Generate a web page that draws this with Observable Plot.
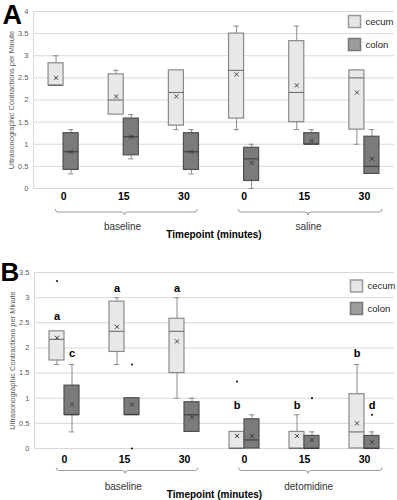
<!DOCTYPE html>
<html><head><meta charset="utf-8">
<script src="https://cdn.jsdelivr.net/npm/d3@7"></script>
<script src="https://cdn.jsdelivr.net/npm/@observablehq/plot@0.6"></script>
<style>
body{margin:0;background:#fff;font-family:"Liberation Sans",Arial,sans-serif}
#chart{width:397px}
#chart svg{display:block}
</style>
</head><body><div id="chart"></div>
<script>
// ---- data ----
const timepoints = ["0","15","30","0","15","30"];
const groupsA = ["baseline","saline"];
const groupsB = ["baseline","detomidine"];
const yTicksA = [0,0.5,1,1.5,2,2.5,3,3.5,4];
const yTicksB = [0,0.5,1,1.5,2,2.5,3,3.5];
const yLabel = "Ultrasonographic Contractions per Minute";
const xTitle = "Timepoint (minutes)";
const tissues = ["cecum","colon"];
// each entry: [min, q1, median, q3, max, mean]
const cecumA = [[2.33,2.33,2.33,2.83,3.0,2.5],[1.67,1.67,2.0,2.58,2.67,2.08],[1.33,1.42,2.17,2.67,2.67,2.08],
                [1.33,1.58,2.67,3.5,3.67,2.58],[1.33,1.5,2.17,3.33,3.67,2.33],[1.0,1.33,2.5,2.67,2.67,2.17]];
const colonA = [[0.33,0.42,0.83,1.25,1.33,0.83],[0.67,0.75,1.17,1.58,1.67,1.17],[0.33,0.42,0.83,1.25,1.33,0.83],
                [0,0.17,0.67,0.92,1.0,0.58],[1.0,1.0,1.0,1.25,1.33,1.08],[0.33,0.33,0.5,1.17,1.33,0.67]];
const cecumB = [[1.67,1.75,2.17,2.33,2.33,2.2],[1.67,1.92,2.33,2.92,3.0,2.42],[1.0,1.5,2.33,2.58,3.0,2.13],
                [0,0,0,0.33,0.33,0.25],[0,0,0,0.33,0.67,0.25],[0,0,0.33,1.08,1.67,0.5]];
const colonB = [[0.33,0.67,0.67,1.25,1.67,0.875],[0.67,0.67,0.67,1.0,1.0,0.875],[0.33,0.33,0.67,0.92,1.0,0.62],
                [0,0,0.17,0.58,0.67,0.25],[0,0,0,0.25,0.33,0.17],[0,0,0,0.25,0.33,0.125]];
const outliersCecumB = [[3.33],[],[],[1.33],[],[]];
const outliersColonB = [[],[1.67,0],[],[],[1.0],[0.67]];
const lettersCecumB = ["a","a","a","b","b","b"];
const letterYCecumB = [2.63,3.19,3.19,0.85,0.85,1.88];
const lettersColonB = ["c","","","","","d"];
const letterYColonB = [1.88,null,null,null,null,0.85];

// ---- styles ----
const FONT = "Liberation Sans, Arial, sans-serif";
const sty = {
  cecum: {fill:"#e8e8e8", stroke:"#8a8a8a", median:"#6e6e6e", legFill:"#e6e6e6", legStroke:"#9a9a9a"},
  colon: {fill:"#7b7b7b", stroke:"#505050", median:"#3c3c3c", legFill:"#9d9d9d", legStroke:"#777"}
};
const whisk = "#8c8c8c";

function rowsFor(stats, tissue){
  const off = tissue === "cecum" ? -0.25 : 0;
  return stats.map((s,i)=>({i, tissue, min:s[0], q1:s[1], med:s[2], q3:s[3], max:s[4], mean:s[5],
    x1:i+off, x2:i+off+0.25, xc:i+off+0.125}));
}

function bracketMark(spans, offset){
  return (index, scales, values, dims) => {
    const g = d3.create("svg:g");
    const y0 = dims.height - dims.marginBottom + offset;
    for (const [a,b,m] of spans){
      const x1 = scales.x(a), x2 = scales.x(b), xm = scales.x(m);
      const p = `M${x1},${y0-3}Q${x1},${y0} ${x1+3},${y0}L${xm-3},${y0}Q${xm},${y0} ${xm},${y0+3}Q${xm},${y0} ${xm+3},${y0}L${x2-3},${y0}Q${x2},${y0} ${x2},${y0-3}`;
      g.append("path").attr("d", p).attr("fill","none").attr("stroke","#9a9a9a").attr("stroke-width",1);
    }
    return g.node();
  };
}

function panel(o){
  const rows = [...rowsFor(o.cecum,"cecum"), ...rowsFor(o.colon,"colon")];
  const outl = [];
  (o.outCecum||[]).forEach((arr,i)=>arr.forEach(v=>outl.push({x:i-0.125, y:v})));
  (o.outColon||[]).forEach((arr,i)=>arr.forEach(v=>outl.push({x:i+0.125, y:v})));
  const lets = [];
  (o.letCecum||[]).forEach((t,i)=>{ if(t) lets.push({x:i-0.125, y:o.letYCecum[i], t}); });
  (o.letColon||[]).forEach((t,i)=>{ if(t) lets.push({x:i+0.125, y:o.letYColon[i], t}); });
  const fillOf = d => sty[d.tissue].fill, strokeOf = d => sty[d.tissue].stroke;
  const idx = d3.range(timepoints.length);
  const marks = [
    Plot.ruleY(o.yTicks, {stroke:"#d9d9d9"}),
    Plot.ruleX([-0.5], {stroke:"#d9d9d9"}),
    Plot.axisY({ticks:o.yTicks, tickSize:0, tickPadding:5, fontSize:7.5, fill:"#595959", tickFormat:d=>String(d), label:null}),
    Plot.axisX({ticks:idx, tickSize:0, tickPadding:o.xPad, fontSize:10.5, fontWeight:"bold", fill:"#000", tickFormat:i=>timepoints[i], label:null}),
    // whiskers
    Plot.ruleX(rows.filter(d=>d.max>d.q3), {x:"xc", y1:"q3", y2:"max", stroke:whisk}),
    Plot.ruleX(rows.filter(d=>d.min<d.q1), {x:"xc", y1:"min", y2:"q1", stroke:whisk}),
    Plot.ruleY(rows.filter(d=>d.max>d.q3), {y:"max", x1:d=>d.xc-0.045, x2:d=>d.xc+0.045, stroke:whisk}),
    Plot.ruleY(rows.filter(d=>d.min<d.q1), {y:"min", x1:d=>d.xc-0.045, x2:d=>d.xc+0.045, stroke:whisk}),
    // boxes
    Plot.rect(rows, {x1:"x1", x2:"x2", y1:"q1", y2:"q3", fill:fillOf, stroke:strokeOf, strokeWidth:1.2}),
    Plot.ruleY(rows, {y:"med", x1:"x1", x2:"x2", stroke:d=>sty[d.tissue].median, strokeWidth:1.1}),
    Plot.dot(rows, {x:"xc", y:"mean", symbol:"times", r:2, stroke:"#333", strokeWidth:0.9}),
    Plot.dot(outl, {x:"x", y:"y", r:1.1, fill:"#222", stroke:null}),
    Plot.text(lets, {x:"x", y:"y", text:"t", fontWeight:"bold", fontSize:11, fill:"#000"}),
    // y label
    Plot.text([yLabel], {frameAnchor:"left", textAnchor:"middle", lineAnchor:"middle", rotate:-90, dx:o.yLabDx, fontSize:7.5, fill:"#595959"}),
    // group labels & title
    bracketMark([[-0.13,2.23,1.02],[2.91,5.3,4.07]], o.brOff),
    Plot.text(o.groups, {x:(d,i)=>i===0?0.98:4.07, frameAnchor:"bottom", lineAnchor:"middle", dy:o.grpDy, fontSize:10, fill:"#333"}),
    Plot.text([xTitle], {frameAnchor:"bottom", lineAnchor:"middle", dy:o.titleDy, fontSize:10, fontWeight:"bold", fill:"#000"}),
    // panel letter
    Plot.text([o.letter], {frameAnchor:"top-left", dx:o.letDx, dy:o.letDy, textAnchor:"start", lineAnchor:"top", fontSize:o.letSize, fontWeight:"bold", fill:"#000"})
  ];
  // legend
  tissues.forEach((t,k)=>{
    marks.push(Plot.dot([t], {frameAnchor:"top-right", dx:o.legDx, dy:o.legDy + k*o.legGap, symbol:"square", r:6.8, fill:sty[t].legFill, stroke:sty[t].legStroke}));
    marks.push(Plot.text([t], {frameAnchor:"top-right", dx:o.legDx+11, dy:o.legDy + k*o.legGap, textAnchor:"start", lineAnchor:"middle", fontSize:9.5, fill:"#222"}));
  });
  return Plot.plot({
    width:397, height:o.height,
    marginTop:o.mt, marginBottom:o.mb, marginLeft:o.ml, marginRight:3,
    style:{fontFamily:FONT, background:"#fff", color:"#000", overflow:"visible"},
    x:{type:"linear", domain:[-0.5,5.5]},
    y:{domain:[0,o.yMax]},
    marks
  });
}

const A = panel({letter:"A", letSize:27, height:240, mt:11, mb:52, ml:33, yMax:4, yTicks:yTicksA,
  cecum:cecumA, colon:colonA, groups:groupsA, xPad:4, yLabDx:-22, brOff:24, grpDy:38, titleDy:46.5,
  letDx:-31, letDy:-7, legDx:-40, legDy:10, legGap:23});
const B = panel({letter:"B", letSize:26, height:260, mt:32, mb:52, ml:34, yMax:3.5, yTicks:yTicksB,
  cecum:cecumB, colon:colonB, outCecum:outliersCecumB, outColon:outliersColonB,
  letCecum:lettersCecumB, letYCecum:letterYCecumB, letColon:lettersColonB, letYColon:letterYColonB,
  groups:groupsB, xPad:7, yLabDx:-22, brOff:22.5, grpDy:38.5, titleDy:46.5, 
  letDx:-34, letDy:-10, legDx:-38, legDy:13.5, legGap:22.5});
document.getElementById("chart").append(A, B);
</script>
</body></html>
